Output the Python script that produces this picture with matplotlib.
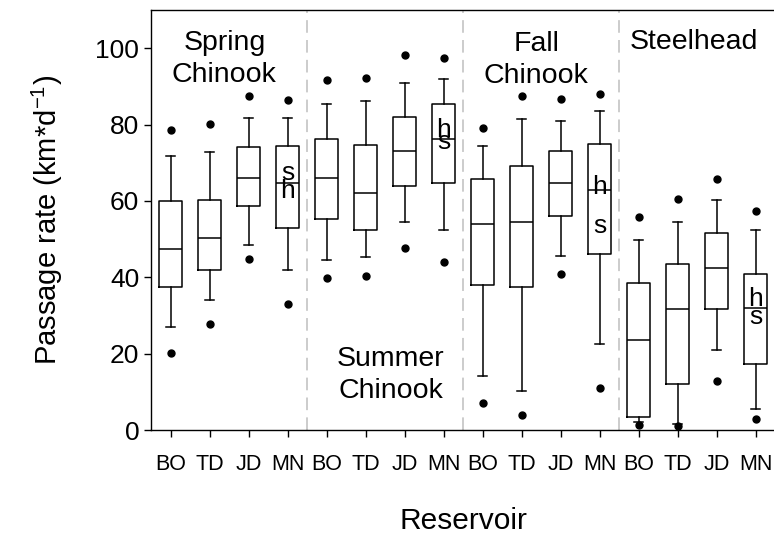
import matplotlib
matplotlib.use("Agg")
import matplotlib.pyplot as plt

plt.rcParams['font.family'] = ['Liberation Sans', 'DejaVu Sans']
plt.rcParams['mathtext.fontset'] = 'custom'
plt.rcParams['mathtext.rm'] = 'Liberation Sans'
plt.rcParams['mathtext.it'] = 'Liberation Sans'
plt.rcParams['mathtext.bf'] = 'Liberation Sans:bold'

# Reservoir labels (repeated for each run) and run groups
reservoirs = ["BO", "TD", "JD", "MN"] * 4
groups = ["Spring\nChinook", "Summer\nChinook", "Fall\nChinook", "Steelhead"]

# Box statistics (km per day), one entry per reservoir/run
q1 = [37.5, 41.9, 58.7, 52.9, 55.2, 52.5, 64.0, 64.8,
      38.1, 37.5, 56.1, 46.0, 3.3, 12.0, 31.6, 17.2]
med = [47.5, 50.3, 66.1, 64.6, 66.1, 62.2, 73.1, 76.1,
       53.9, 54.5, 64.7, 62.8, 23.7, 31.6, 42.3, 31.9]
q3 = [59.9, 60.3, 74.0, 74.3, 76.2, 74.7, 82.0, 85.3,
      65.7, 69.2, 73.1, 75.0, 38.6, 43.4, 51.5, 40.8]
whislo = [27.0, 34.0, 48.4, 41.9, 44.5, 45.2, 54.5, 52.5,
          14.1, 10.2, 45.5, 22.4, 2.0, 1.5, 20.9, 5.4]
whishi = [71.8, 72.9, 81.7, 81.7, 85.3, 86.2, 90.9, 92.0,
          74.3, 81.4, 80.9, 83.5, 49.7, 54.5, 60.2, 52.4]
flier_low = [20.1, 27.7, 44.8, 33.0, 39.7, 40.3, 47.7, 44.0,
             7.0, 4.0, 40.8, 11.1, 1.3, 1.0, 12.8, 2.8]
flier_high = [78.6, 80.1, 87.5, 86.4, 91.6, 92.3, 98.3, 97.5,
              79.1, 87.5, 86.6, 88.0, 55.7, 60.6, 65.8, 57.3]

# Letter annotations on the MN boxes: (position, letter, value)
mn_letters = [
    (4, "s", 67.4), (4, "h", 62.7),
    (8, "h", 78.7), (8, "s", 75.3),
    (12, "h", 63.7), (12, "s", 53.5),
    (16, "h", 34.3), (16, "s", 29.5),
]

stats = []
for i in range(len(reservoirs)):
    stats.append(dict(med=med[i], q1=q1[i], q3=q3[i],
                      whislo=whislo[i], whishi=whishi[i],
                      fliers=[flier_low[i], flier_high[i]]))

fig = plt.figure(figsize=(7.74, 5.34), dpi=100)
ax = fig.add_axes([151 / 774, 104 / 534, 624 / 774, 420 / 534])

positions = list(range(1, len(reservoirs) + 1))
ax.bxp(stats, positions=positions, widths=0.61, capwidths=0.22,
       patch_artist=False,
       boxprops=dict(color="black", linewidth=1.1),
       whiskerprops=dict(color="black", linewidth=1.1),
       capprops=dict(color="black", linewidth=1.1),
       medianprops=dict(color="black", linewidth=1.1),
       flierprops=dict(marker="o", markerfacecolor="black",
                       markeredgecolor="black", markersize=5))

# Dashed separators between runs
for xs in (4.5, 8.5, 12.5):
    ax.axvline(xs, color="#c8c8c8", linestyle=(0, (7, 4)), linewidth=1.3, zorder=0)

# Run names
gfs = 20.5
ax.text(2.38, 97.1, groups[0], ha="center", va="center", fontsize=gfs, linespacing=1.3)
ax.text(6.64, 14.3, groups[1], ha="center", va="center", fontsize=gfs, linespacing=1.3)
ax.text(10.38, 96.8, groups[2], ha="center", va="center", fontsize=gfs, linespacing=1.3)
ax.text(14.43, 101.6, groups[3], ha="center", va="center", fontsize=gfs)

for xpos, letter, val in mn_letters:
    ax.text(xpos, val, letter, ha="center", va="center", fontsize=19)

ax.set_xlim(0.5, 16.5)
ax.set_ylim(0, 110)
ax.set_yticks([0, 20, 40, 60, 80, 100])
ax.set_xticks(positions)
ax.set_xticklabels(reservoirs, fontsize=15.5)
ax.tick_params(axis="y", labelsize=19, direction="out", length=5, width=1)
ax.tick_params(axis="x", direction="out", length=5, width=1, pad=12)
ax.spines["right"].set_visible(False)
for s in ("left", "bottom", "top"):
    ax.spines[s].set_linewidth(1.0)

ax.set_ylabel("Passage rate (km*d$^{-1}$)", fontsize=21, labelpad=22)
ax.set_xlabel("Reservoir", fontsize=21.5, labelpad=23)

fig.savefig("out.png", dpi=100)
